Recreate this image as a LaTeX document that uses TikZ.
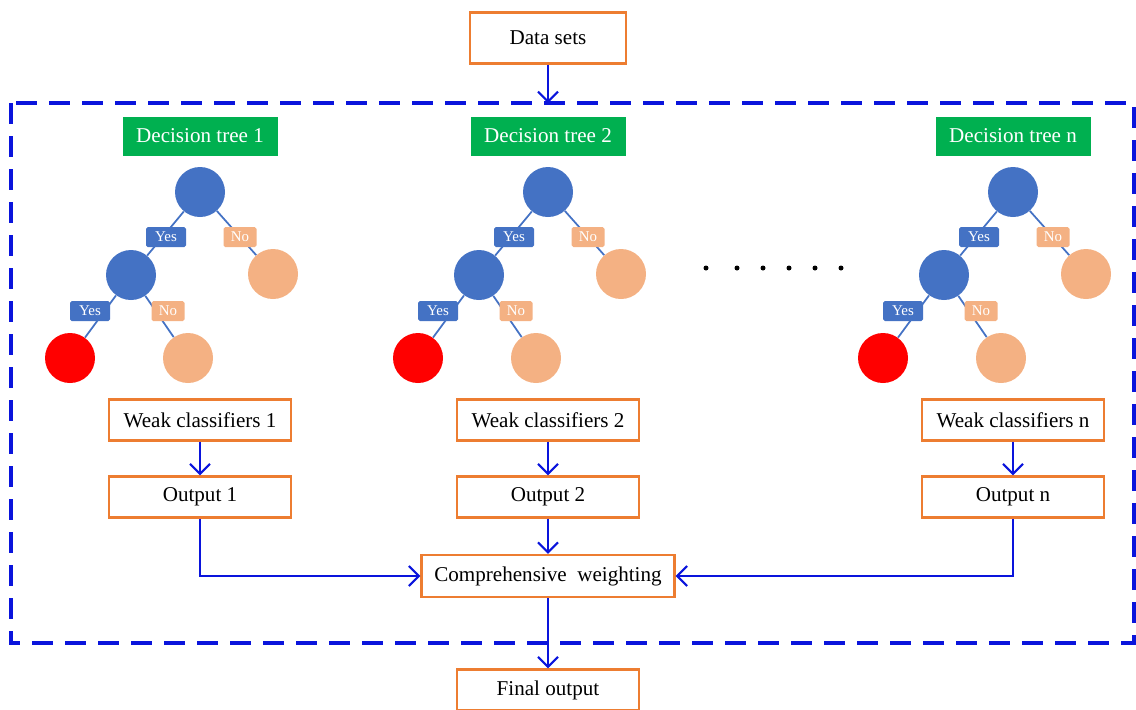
\documentclass[tikz,border=0pt]{standalone}
\usepackage{fontspec}
\setmainfont{Liberation Serif}
\usetikzlibrary{arrows.meta}

\definecolor{boxorange}{RGB}{237,125,49}
\definecolor{treeblue}{RGB}{68,114,196}
\definecolor{leaforange}{RGB}{244,177,131}
\definecolor{titlegreen}{RGB}{0,176,80}
\definecolor{flowblue}{RGB}{10,20,220}

\begin{document}
\begin{tikzpicture}[x=0.2mm,y=-0.2mm,
	box/.style={draw=boxorange, line width=1.3pt, fill=white, minimum width=36.4mm,
		minimum height=8.2mm, inner sep=0pt, font=\fontsize{12}{14}\selectfont},
	treetitle/.style={fill=titlegreen, text=white, minimum width=31mm, minimum height=7.8mm,
		inner sep=0pt, font=\fontsize{12}{14}\selectfont},
	inner/.style={circle, fill=treeblue, minimum size=10mm, inner sep=0pt},
	leaf/.style={circle, fill=leaforange, minimum size=10mm, inner sep=0pt},
	hit/.style={circle, fill=red, minimum size=10mm, inner sep=0pt},
	yes/.style={fill=treeblue, rounded corners=1pt, text=white, minimum width=8mm,
		minimum height=4mm, inner sep=0pt, font=\fontsize{8.5}{9}\selectfont},
	no/.style={yes, fill=leaforange, minimum width=6.6mm},
	branch/.style={draw=treeblue, line width=1pt},
	flow/.style={draw=flowblue, line width=1.2pt, -{Straight Barb[length=2mm,width=4mm]}}]
	
	\useasboundingbox (0,0) rectangle (1136,709);
	
	% frame round the forest
	\draw[flowblue, line width=1.8pt, dash pattern=on 4.2mm off 2.4mm] (11,103) rectangle (1134,643);
	
	\node[box, minimum width=31.2mm, minimum height=10.2mm] (data) at (548,38) {Data sets};
	\coordinate (entry) at (548,103);
	\path[flow] (data) -- (entry);
	
	% one tree per column
	\foreach \i/\x in {1/200, 2/548, n/1013} {
		\node[treetitle] (dt\i) at (\x,136) {Decision tree \i};
		
		\node[inner] (root\i) at (\x,192) {};
		\node[inner] (l\i) at (\x-69,275) {};
		\node[leaf] (r\i) at (\x+73,274) {};
		\node[hit] (ll\i) at (\x-130,358) {};
		\node[leaf] (lr\i) at (\x-12,358) {};
		
		\path[branch] (root\i) -- (l\i);
		\path[branch] (root\i) -- (r\i);
		\path[branch] (l\i) -- (ll\i);
		\path[branch] (l\i) -- (lr\i);
		
		\node[yes] (ya\i) at (\x-34,237) {Yes};
		\node[no] (na\i) at (\x+40,237) {No};
		\node[yes] (yb\i) at (\x-110,311) {Yes};
		\node[no] (nb\i) at (\x-32,311) {No};
		
		\node[box] (weak\i) at (\x,420) {Weak classifiers \i};
		\node[box] (out\i) at (\x,497) {Output \i};
		\path[flow] (weak\i) -- (out\i);
	}
	
	% dots between tree 2 and tree n
	\foreach \d in {706,737,763,789,815,841}
		\fill (\d,268) circle (0.5mm);
	
	\node[box, minimum width=50.6mm, minimum height=8.4mm] (comb) at (548,576) {Comprehensive\ \ weighting};
	\node[box] (final) at (548,690) {Final output};
	
	\path[flow] (out2) -- (comb);
	\path[flow] (out1) |- (comb);
	\path[flow] (outn) |- (comb);
	\path[flow] (comb) -- (final);
	
\end{tikzpicture}
\end{document}
